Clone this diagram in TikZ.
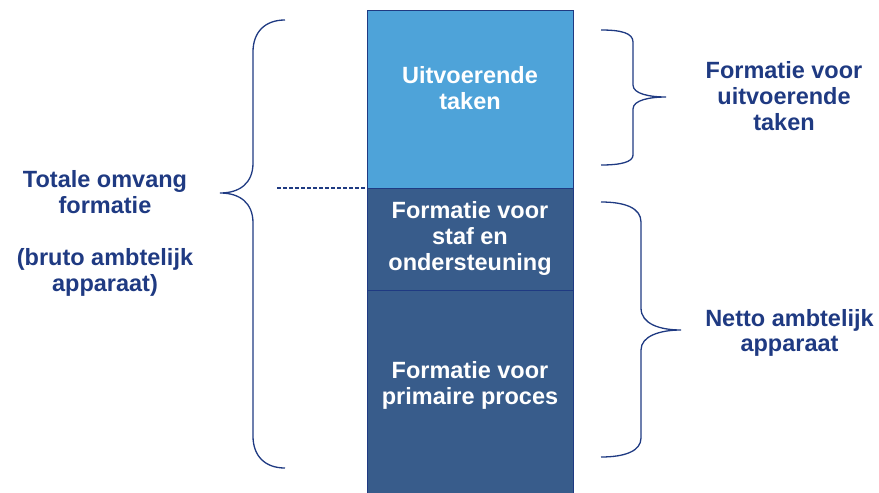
\documentclass[tikz,border=0pt]{standalone}
\usepackage{fontspec}
\setmainfont{Liberation Sans}
\definecolor{lightblue}{HTML}{4EA3D9}
\definecolor{darkblue}{HTML}{385C8B}
\definecolor{navy}{HTML}{1F3A82}
\begin{document}
\begin{tikzpicture}[x=1pt,y=-1pt,
  box/.style={draw=navy,line width=1pt,inner sep=0pt},
  lbl/.style={align=center,inner sep=0pt,font={\fontsize{23.5}{26}\selectfont\bfseries}},
  intext/.style={lbl,text=white},
  outtext/.style={lbl,text=navy},
  brace/.style={draw=navy,line width=1.3pt},
  dashline/.style={draw=navy,line width=1.5pt,dash pattern=on 4pt off 2pt}]
\useasboundingbox (0,0) rectangle (879,493);
% column boxes
\path[box,fill=lightblue] (367,10) rectangle (573,188);
\path[box,fill=darkblue] (367,188) rectangle (573,290);
\path[box,fill=darkblue] (367,290) rectangle (573,493);
\coordinate (colleft) at (367,188);
\coordinate (dashstart) at (277,188);
% texts in column
\node[intext] (t1) at (470,88) {Uitvoerende\\taken};
\node[intext] (t2) at (470,238.6) {Formatie voor\\staf en\\ondersteuning};
\node[intext] (t3) at (470,385.6) {Formatie voor\\primaire proces};
% outside labels
\node[outtext] (r1) at (784,95.7) {Formatie voor\\uitvoerende\\taken};
\node[outtext] (r2) at (789.5,332.6) {Netto ambtelijk\\[-1pt]apparaat};
\node[outtext] (l1) at (105,233.6) {Totale omvang\\formatie\\[26pt](bruto ambtelijk\\apparaat)};
% dashed line
\draw[dashline] (dashstart) -- (colleft);
% left brace
\draw[brace] (285,20) .. controls (265,20) and (253,32) .. (253,52)
  -- (253,163) .. controls (253,183) and (240,193) .. (220,193)
  .. controls (240,193) and (253,203) .. (253,223)
  -- (253,436) .. controls (253,456) and (265,468) .. (285,468);
% right top brace
\draw[brace] (601,30) .. controls (621,30) and (633,33) .. (633,42)
  -- (633,85) .. controls (633,94) and (650,97) .. (666,97)
  .. controls (650,97) and (633,100) .. (633,109)
  -- (633,155) .. controls (633,162) and (621,165) .. (601,165);
% right bottom brace
\draw[brace] (601,202) .. controls (625,202) and (641,208) .. (641,222)
  -- (641,308) .. controls (641,324) and (660,330) .. (681,330)
  .. controls (660,330) and (641,336) .. (641,350)
  -- (641,438) .. controls (641,451) and (625,457) .. (601,457);
\end{tikzpicture}
\end{document}
